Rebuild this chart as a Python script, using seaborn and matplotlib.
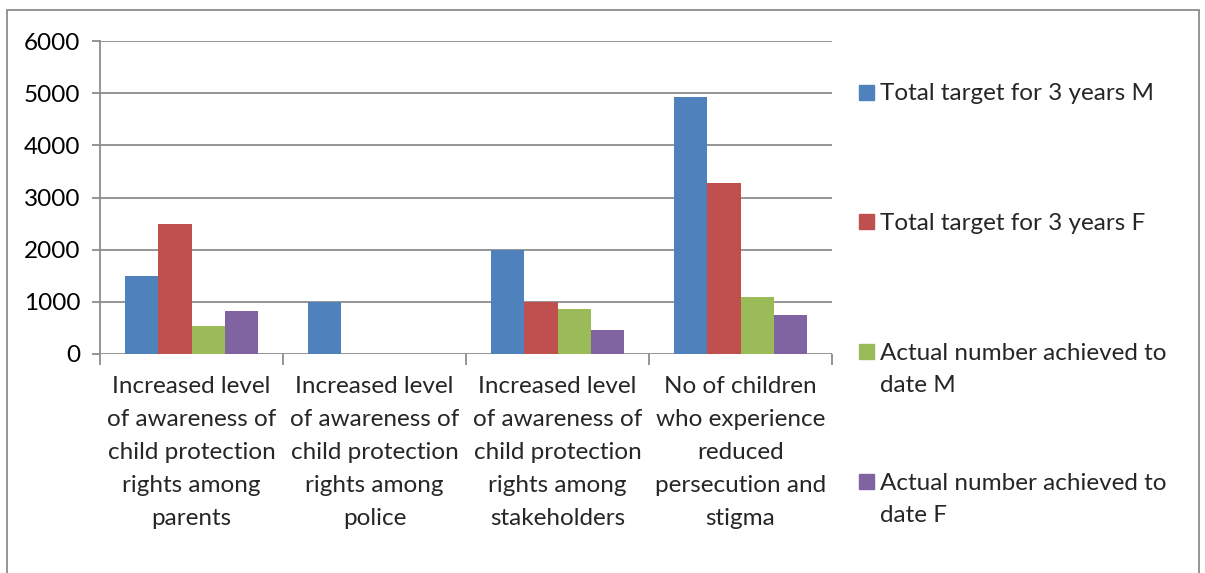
import matplotlib
matplotlib.use("Agg")
import matplotlib.pyplot as plt
import matplotlib.patches as mpatches
import seaborn as sns
import pandas as pd

# data
categories = [
    "Increased level\nof awareness of\nchild protection\nrights among\nparents",
    "Increased level\nof awareness of\nchild protection\nrights among\npolice",
    "Increased level\nof awareness of\nchild protection\nrights among\nstakeholders",
    "No of children\nwho experience\nreduced\npersecution and\nstigma",
]
series = [
    "Total target for 3 years M",
    "Total target for 3 years F",
    "Actual number achieved to date M",
    "Actual number achieved to date F",
]
target_m = [1500, 1000, 2000, 4930]
target_f = [2500, 0, 1000, 3280]
actual_m = [540, 0, 870, 1100]
actual_f = [820, 0, 460, 740]
legend_lines = [
    ["Total target for 3 years M"],
    ["Total target for 3 years F"],
    ["Actual number achieved to", "date M"],
    ["Actual number achieved to", "date F"],
]
colors = ["#4F81BD", "#C0504D", "#9BBB59", "#8064A2"]

rows = []
for s, vals in zip(series, [target_m, target_f, actual_m, actual_f]):
    for c, v in zip(categories, vals):
        rows.append({"category": c, "series": s, "value": v})
df = pd.DataFrame(rows)

sns.set_style("white")
plt.rcParams["font.family"] = ["Lato", "DejaVu Sans"]

W, H = 1205, 573
fig = plt.figure(figsize=(W / 100, H / 100), dpi=100)
ax = fig.add_axes([100 / W, 1 - 354 / H, 732 / W, 313 / H])

sns.barplot(data=df, x="category", y="value", hue="series", order=categories,
            hue_order=series, palette=colors, width=0.727, gap=0,
            saturation=1, ax=ax, legend=False, linewidth=0)

ax.set_ylim(0, 6000)
ax.set_xlim(-0.5, 3.5)
ax.set_yticks(range(0, 6001, 1000))
ax.yaxis.grid(True, color="#8c8c8c", linewidth=1.3)
ax.set_axisbelow(True)
ax.set_xlabel("")
ax.set_ylabel("")
for side in ["top", "right", "bottom"]:
    ax.spines[side].set_visible(False)
ax.spines["left"].set_color("#8c8c8c")
ax.spines["left"].set_linewidth(1.3)
ax.tick_params(axis="y", labelsize=17.5, length=6, width=1.3, color="#8c8c8c",
               left=True, pad=8, labelcolor="black")

# category labels + boundary ticks like Excel
ax.set_xticks([-0.5, 0.5, 1.5, 2.5, 3.5])
ax.set_xticklabels([])
ax.tick_params(axis="x", bottom=True, length=8, width=1.3, color="#8c8c8c")
ax.set_xticks(range(len(categories)), minor=True)
ax.set_xticklabels(categories, minor=True, fontsize=17.5, linespacing=1.7)
ax.tick_params(axis="x", which="minor", length=0, pad=16)

# legend drawn like Excel: evenly spaced entries, key next to first line
for i, (c, lines) in enumerate(zip(colors, legend_lines)):
    yc = 92 + 129.7 * i
    fig.add_artist(mpatches.Rectangle((859 / W, 1 - (yc + 7.5) / H), 15 / W, 15 / H,
                                      transform=fig.transFigure, color=c))
    for j, line in enumerate(lines):
        fig.text(880 / W, 1 - (yc + 2 + 32 * j) / H, line, fontsize=17.5,
                 va="center", ha="left")

# outer chart border
fig.add_artist(mpatches.Rectangle((7 / W, -0.02), 1192 / W, 1 - 10 / H + 0.02,
                                  transform=fig.transFigure, fill=False,
                                  edgecolor="#8c8c8c", linewidth=1.3))

fig.savefig("out.png", dpi=100)
